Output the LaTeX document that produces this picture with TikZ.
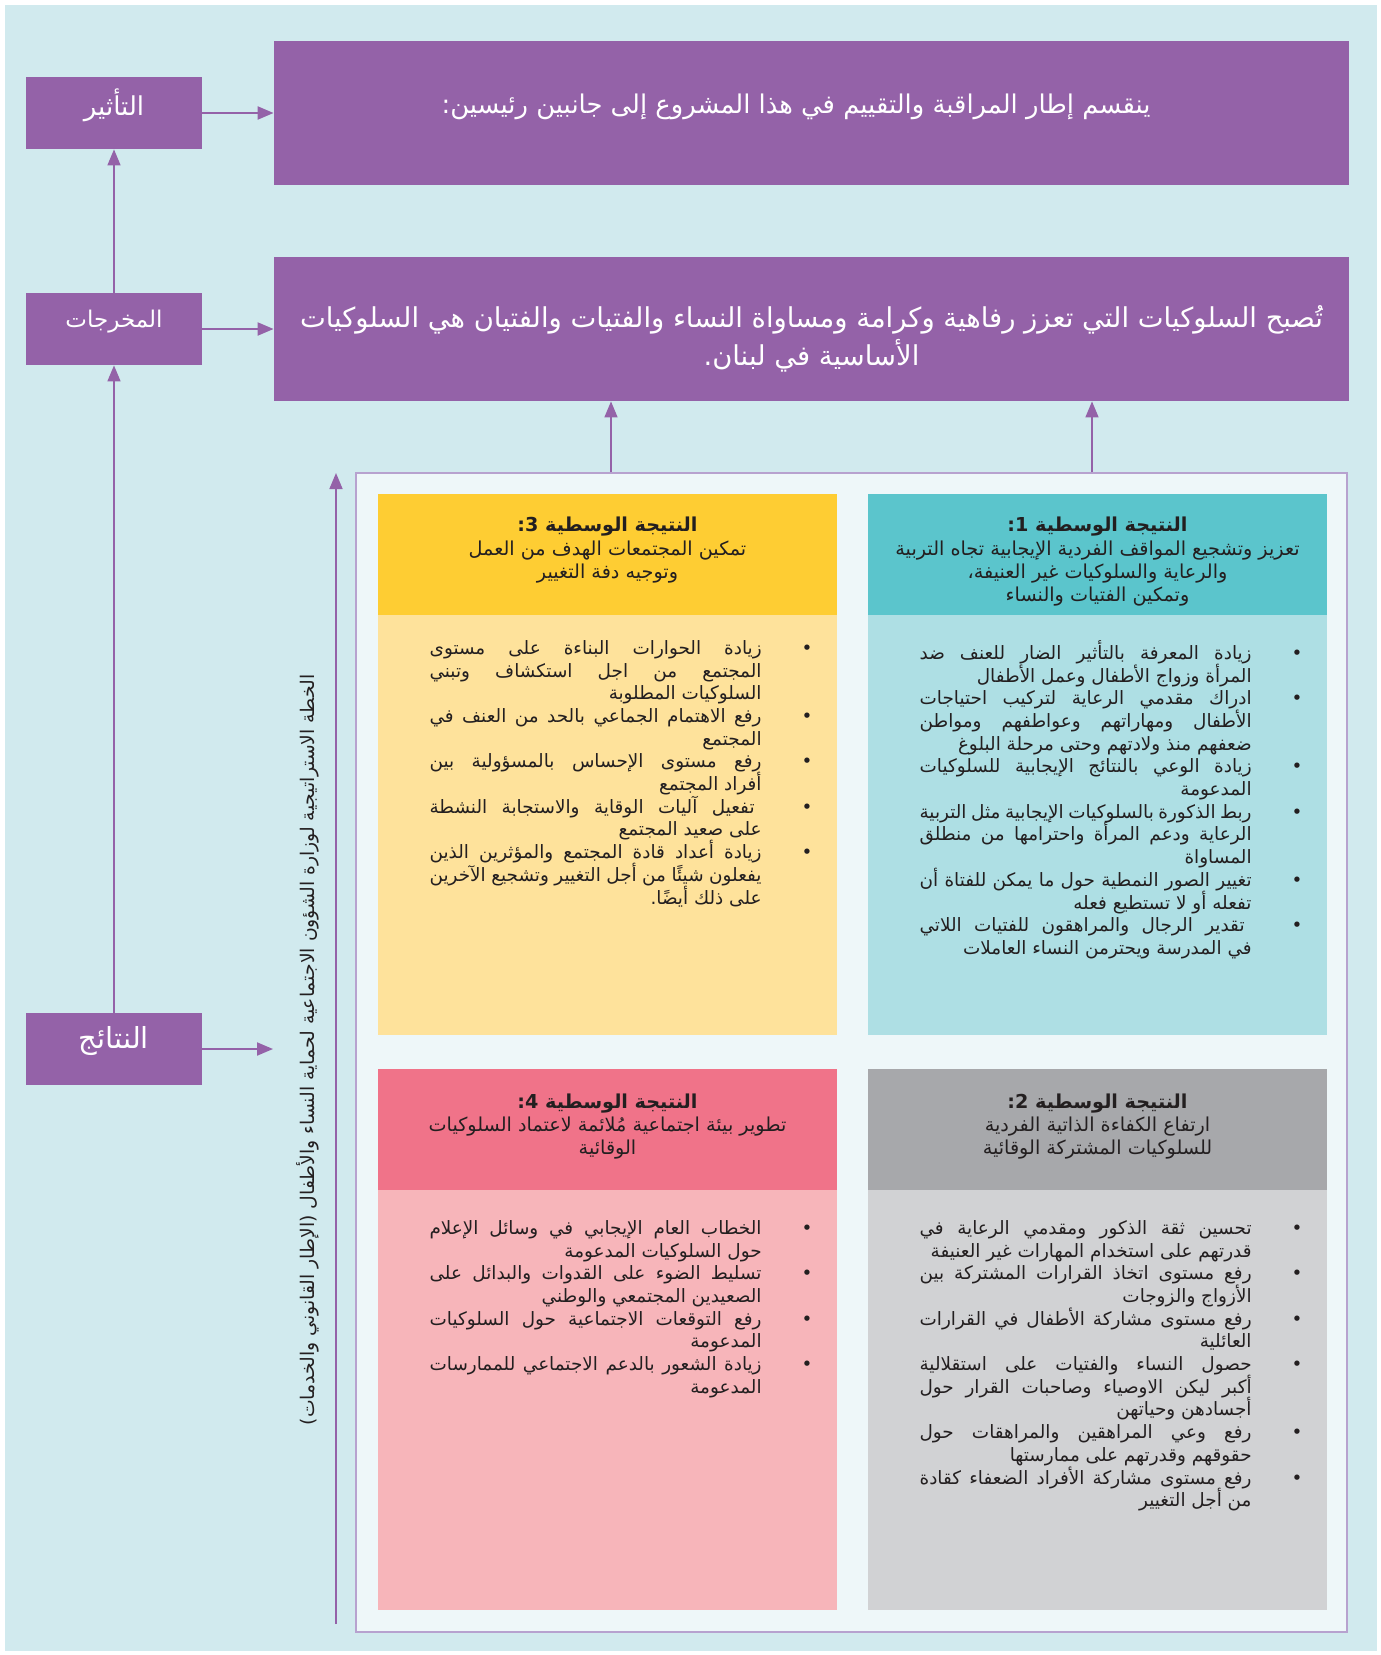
\documentclass[tikz,border=0pt]{standalone}
\usepackage{fontspec}
\setmainfont{DejaVu Sans}
\newfontfamily\arf[Script=Arabic]{DejaVu Sans}
\TeXXeTstate=1
\usetikzlibrary{arrows.meta}
\definecolor{bgblue}{HTML}{D1EAEE}
\definecolor{purp}{HTML}{9462A8}
\definecolor{lpurp}{HTML}{B7A2CF}
\definecolor{contfill}{HTML}{EEF7F9}
\definecolor{tealh}{HTML}{5BC5CC}
\definecolor{tealb}{HTML}{AEDFE4}
\definecolor{yelh}{HTML}{FECD33}
\definecolor{yelb}{HTML}{FEE29B}
\definecolor{greyh}{HTML}{A7A8AB}
\definecolor{greyb}{HTML}{D1D2D4}
\definecolor{pinkh}{HTML}{F07389}
\definecolor{pinkb}{HTML}{F7B5BA}
\definecolor{ink}{HTML}{231F20}
\newcommand\rtlx[1]{\beginR #1\endR}
\newcommand\brk{\unskip\penalty-10000\relax}
\newcommand\itm[1]{\noindent\rlap{\hskip\dimexpr\hsize+20pt\relax•}\beginR #1\hfill\endR\par}
\newcommand\tightls{\lineskiplimit=-100pt\relax\lineskip=0pt\relax}
\newcommand\listsetup{\parfillskip=0pt\relax\parindent=0pt\relax\hyphenpenalty=10000\relax\tolerance=10000\relax\hbadness=10000\relax\tightls}
\tikzset{
  pbox/.style={fill=purp, draw=none, inner sep=0pt, text=white},
  lbox/.style={pbox, minimum width=88pt, minimum height=36pt},
  ltext/.style={inner sep=0pt, text=white},
  bigbox/.style={pbox, minimum width=537.5pt, minimum height=72pt},
  bigtext/.style={inner sep=0pt, text=white, align=center},
  hdr/.style={inner sep=0pt, draw=none, minimum width=229.5pt, minimum height=60.5pt},
  bdy/.style={inner sep=0pt, draw=none, minimum width=229.5pt, minimum height=210pt},
  arr/.style={draw=purp, line width=1pt, -{Triangle[length=8pt,width=6.5pt]}},
  hdtext/.style={anchor=north, align=center, inner sep=0pt, text=ink, font=\arf\fontsize{9.6}{11.6}\selectfont\tightls},
  bltext/.style={anchor=north east, text width=166pt, align=justify, inner sep=0pt, text=ink, font=\arf\fontsize{9.2}{11.35}\selectfont},
}
\begin{document}
\begin{tikzpicture}[x=0.5pt,y=-0.5pt]
\useasboundingbox (0,0) rectangle (1381,1655);
\fill[white] (0,0) rectangle (1381,1655);
\fill[bgblue] (5,5) rectangle (1377,1651);

% left column
\node[lbox] (imp) at (114,113) {};
\node[lbox] (outp) at (114,329) {};
\node[lbox] (res) at (114,1049) {};
\node[ltext, font=\arf\fontsize{13}{15}\selectfont] (impt) at (114,105) {\rtlx{التأثير}};
\node[ltext, font=\arf\fontsize{11.5}{14}\selectfont] (outpt) at (114,322) {\rtlx{المخرجات}};
\node[ltext, font=\arf\fontsize{14.5}{17}\selectfont] (rest) at (114,1041) {\rtlx{النتائج}};

% big boxes
\node[bigbox] (top) at (811.5,113) {};
\node[bigbox] (outc) at (811.5,329) {};
\node[bigtext, font=\arf\fontsize{12.9}{18}\selectfont] (topt) at (796,107)
  {\rtlx{ينقسم إطار المراقبة والتقييم في هذا المشروع إلى جانبين رئيسين:}};
\node[bigtext, font=\arf\fontsize{13.7}{19}\selectfont] (outct) at (811.5,339)
  {\rtlx{تُصبح السلوكيات التي تعزز رفاهية وكرامة ومساواة النساء والفتيات والفتيان هي السلوكيات}\\
   \rtlx{الأساسية في لبنان.}};

% container
\node[fill=contfill, draw=lpurp, line width=0.8pt, inner sep=0pt, minimum width=495.5pt, minimum height=579.5pt] (cont) at (851.5,1052.5) {};

% connectors
\draw[arr] (imp.east) -- (top.west);
\draw[arr] (outp.east) -- (outc.west);
\coordinate (rend) at (273,1049);
\draw[arr] (res.east) -- (rend);
\draw[arr, line width=0.8pt] (res.north) -- (outp.south);
\draw[arr, line width=0.8pt] (outp.north) -- (imp.south);
\coordinate (ca) at (611,0);
\coordinate (cb) at (1092,0);
\draw[arr, line width=0.8pt] (cont.north -| ca) -- (outc.south -| ca);
\draw[arr, line width=0.8pt] (cont.north -| cb) -- (outc.south -| cb);
\coordinate (vb) at (336,1624);
\coordinate (vt) at (336,473);
\draw[arr, line width=0.8pt] (vb) -- (vt);

% vertical label
\node[rotate=90, inner sep=0pt, text=ink, font=\arf\fontsize{9.4}{11}\selectfont] (vlab) at (308,1050)
  {\rtlx{الخطة الاستراتيجية لوزارة الشؤون الاجتماعية لحماية النساء والأطفال (الإطار القانوني والخدمات)}};

% outcome 1 (teal)
\node[hdr, fill=tealh] (h1) at (1097.5,554.5) {};
\node[bdy, fill=tealb] (b1) at (1097.5,825) {};
\node[hdtext] (h1t) at (1097.5,517) {%
  {\bfseries\rtlx{النتيجة الوسطية 1\kern0pt:}}\\
  \rtlx{تعزيز وتشجيع المواقف الفردية الإيجابية تجاه التربية}\\
  \rtlx{والرعاية والسلوكيات غير العنيفة،}\\
  \rtlx{وتمكين الفتيات والنساء}};
\node[bltext] (b1t) at (1252,640) {\listsetup
  \itm{زيادة المعرفة بالتأثير الضار للعنف ضد \brk المرأة وزواج الأطفال وعمل الأطفال}
  \itm{ادراك مقدمي الرعاية لتركيب احتياجات \brk الأطفال ومهاراتهم وعواطفهم ومواطن \brk ضعفهم منذ ولادتهم وحتى مرحلة البلوغ}
  \itm{زيادة الوعي بالنتائج الإيجابية للسلوكيات \brk المدعومة}
  \itm{ربط الذكورة بالسلوكيات الإيجابية مثل التربية \brk الرعاية ودعم المرأة واحترامها من منطلق \brk المساواة}
  \itm{تغيير الصور النمطية حول ما يمكن للفتاة أن \brk تفعله أو لا تستطيع فعله}
  \itm{\kern3.5pt تقدير الرجال والمراهقون للفتيات اللاتي \brk في المدرسة ويحترمن النساء العاملات}};

% outcome 3 (yellow)
\node[hdr, fill=yelh] (h3) at (607.5,554.5) {};
\node[bdy, fill=yelb] (b3) at (607.5,825) {};
\node[hdtext] (h3t) at (607.5,517) {%
  {\bfseries\rtlx{النتيجة الوسطية 3\kern0pt:}}\\
  \rtlx{تمكين المجتمعات الهدف من العمل}\\
  \rtlx{وتوجيه دفة التغيير}};
\node[bltext] (b3t) at (762,640) {\listsetup
  \itm{زيادة الحوارات البناءة على مستوى \brk المجتمع من اجل استكشاف وتبني \brk السلوكيات المطلوبة}
  \itm{رفع الاهتمام الجماعي بالحد من العنف في \brk المجتمع}
  \itm{رفع مستوى الإحساس بالمسؤولية بين \brk أفراد المجتمع}
  \itm{\kern3.5pt تفعيل آليات الوقاية والاستجابة النشطة \brk على صعيد المجتمع}
  \itm{زيادة أعداد قادة المجتمع والمؤثرين الذين \brk يفعلون شيئًا من أجل التغيير وتشجيع الآخرين \brk على ذلك أيضًا.}};

% outcome 2 (grey)
\node[hdr, fill=greyh] (h2) at (1097.5,1129.5) {};
\node[bdy, fill=greyb] (b2) at (1097.5,1400) {};
\node[hdtext] (h2t) at (1097.5,1093) {%
  {\bfseries\rtlx{النتيجة الوسطية 2\kern0pt:}}\\
  \rtlx{ارتفاع الكفاءة الذاتية الفردية}\\
  \rtlx{للسلوكيات المشتركة الوقائية}};
\node[bltext] (b2t) at (1252,1220) {\listsetup
  \itm{تحسين ثقة الذكور ومقدمي الرعاية في \brk قدرتهم على استخدام المهارات غير العنيفة}
  \itm{رفع مستوى اتخاذ القرارات المشتركة بين \brk الأزواج والزوجات}
  \itm{رفع مستوى مشاركة الأطفال في القرارات \brk العائلية}
  \itm{حصول النساء والفتيات على استقلالية \brk أكبر ليكن الاوصياء وصاحبات القرار حول \brk أجسادهن وحياتهن}
  \itm{رفع وعي المراهقين والمراهقات حول \brk حقوقهم وقدرتهم على ممارستها}
  \itm{رفع مستوى مشاركة الأفراد الضعفاء كقادة \brk من أجل التغيير}};

% outcome 4 (pink)
\node[hdr, fill=pinkh] (h4) at (607.5,1129.5) {};
\node[bdy, fill=pinkb] (b4) at (607.5,1400) {};
\node[hdtext] (h4t) at (607.5,1093) {%
  {\bfseries\rtlx{النتيجة الوسطية 4\kern0pt:}}\\
  \rtlx{تطوير بيئة اجتماعية مُلائمة لاعتماد السلوكيات}\\
  \rtlx{الوقائية}};
\node[bltext] (b4t) at (762,1220) {\listsetup
  \itm{الخطاب العام الإيجابي في وسائل الإعلام \brk حول السلوكيات المدعومة}
  \itm{تسليط الضوء على القدوات والبدائل على \brk الصعيدين المجتمعي والوطني}
  \itm{رفع التوقعات الاجتماعية حول السلوكيات \brk المدعومة}
  \itm{زيادة الشعور بالدعم الاجتماعي للممارسات \brk المدعومة}};
\end{tikzpicture}
\end{document}
